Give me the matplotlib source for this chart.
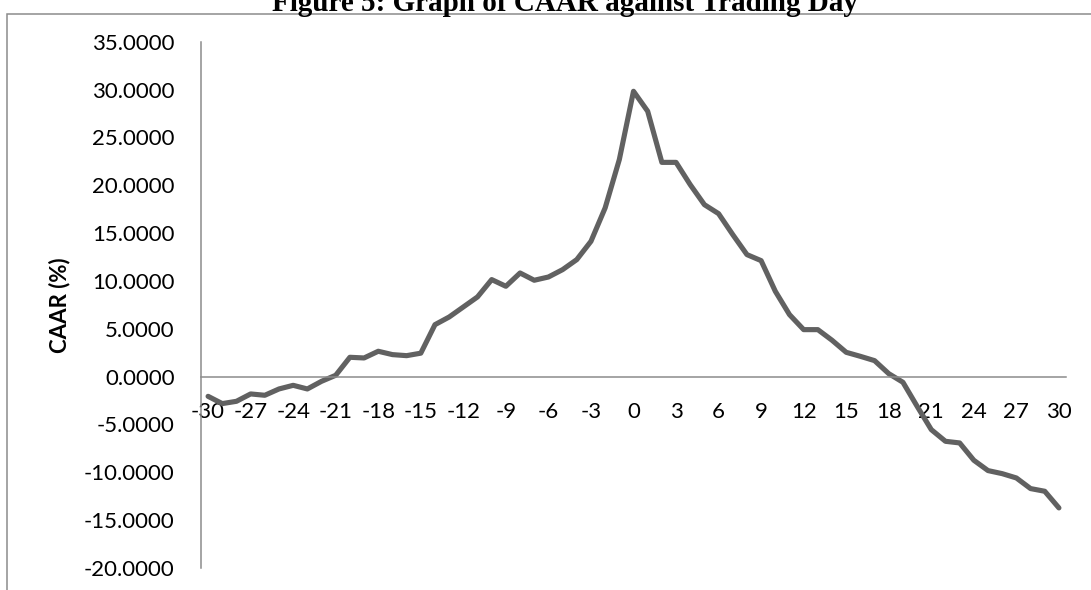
import matplotlib
matplotlib.use("Agg")
import matplotlib.pyplot as plt
from matplotlib.patches import Rectangle

# trading days relative to the event and CAAR (%)
days = list(range(-30, 31))
caar = [
    -2.06, -2.82, -2.58, -1.81, -1.95, -1.29, -0.91, -1.29, -0.49, 0.14,
    2.02, 1.95, 2.65, 2.30, 2.19, 2.45, 5.43, 6.23, 7.28, 8.33,
    10.14, 9.44, 10.83, 10.07, 10.41, 11.18, 12.23, 14.14, 17.63, 22.68,
    29.82, 27.73, 22.39, 22.39, 20.06, 17.97, 17.03, 14.84, 12.75, 12.12,
    8.92, 6.48, 4.91, 4.91, 3.80, 2.54, 2.12, 1.67, 0.31, -0.59,
    -3.10, -5.54, -6.76, -6.93, -8.74, -9.82, -10.14, -10.59, -11.70, -11.98,
    -13.72,
]
x_ticks = list(range(-30, 31, 3))
y_ticks = list(range(-20, 36, 5))

title = "Figure 5: Graph of CAAR against Trading Day"
y_label = "CAAR (%)"

plt.rcParams['font.family'] = ['Lato', 'DejaVu Sans']
plt.rcParams['axes.unicode_minus'] = False

fig = plt.figure(figsize=(10.91, 5.90), dpi=100)
ax = fig.add_axes([201 / 1091, 1 - 568 / 590, 865 / 1091, (568 - 41.7) / 590])

ax.plot(days, caar, color='#616161', linewidth=3.7, solid_joinstyle='round',
        solid_capstyle='round', clip_on=False)

ax.set_xlim(-30.5, 30.5)
ax.set_ylim(-20, 35)
ax.set_xticks(x_ticks)
ax.set_yticks(y_ticks)
ax.set_yticklabels([f"{v:.4f}" for v in y_ticks])

ax.spines['top'].set_visible(False)
ax.spines['right'].set_visible(False)
ax.spines['left'].set_color('#8c8c8c')
ax.spines['left'].set_linewidth(1.1)
ax.spines['bottom'].set_position(('data', 0))
ax.spines['bottom'].set_color('#8c8c8c')
ax.spines['bottom'].set_linewidth(1.1)

ax.tick_params(axis='y', length=0, pad=19, labelsize=16)
ax.tick_params(axis='x', length=0, pad=18, labelsize=16)

ax.set_ylabel(y_label, fontsize=16, fontweight='bold')
ax.yaxis.set_label_coords(-0.151, 0.5)

# outer chart border
fig.patches.append(Rectangle((7 / 1091, -0.05), 1.1, 1 - 14 / 590 + 0.05,
                             transform=fig.transFigure, fill=False,
                             edgecolor='#8c8c8c', linewidth=1.1))

fig.text(0.518, 1 - 11 / 590, title, ha='center', va='baseline',
         family='Liberation Serif', fontweight='bold', fontsize=21)

fig.savefig("out.png", dpi=100)
